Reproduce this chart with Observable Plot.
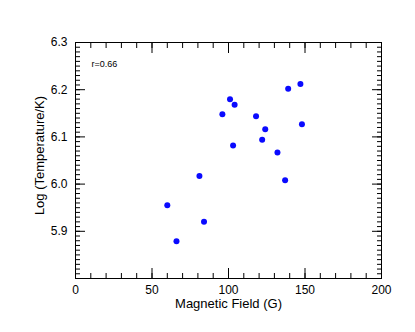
<!DOCTYPE html>
<html>
<head>
<meta charset="utf-8">
<script src="https://cdn.jsdelivr.net/npm/d3@7"></script>
<script src="https://cdn.jsdelivr.net/npm/@observablehq/plot@0.6"></script>
<style>
  html, body { margin: 0; padding: 0; background: #fff; }
  #chart { width: 415px; height: 332px; }
</style>
</head>
<body>
<div id="chart"></div>
<script>
// Data
const field = [101, 104, 96, 118, 124, 122, 103, 81, 60, 84, 66, 147, 139, 148, 132, 137];
const logTemp = [6.180, 6.168, 6.148, 6.144, 6.116, 6.094, 6.082, 6.017, 5.955, 5.920, 5.879, 6.212, 6.202, 6.127, 6.067, 6.008];
const xMajor = [0, 50, 100, 150, 200];
const xMinor = d3.range(0, 201, 10);
const yMajor = [5.9, 6.0, 6.1, 6.2, 6.3];
const yMinor = d3.range(0, 51).map(i => +(5.8 + i * 0.01).toFixed(2));
const annotation = ["r=0.66"];
const xLabel = ["Magnetic Field (G)"];
const yLabel = ["Log (Temperature/K)"];

const points = field.map((f, i) => ({field: f, logTemp: logTemp[i]}));
const font = "'Liberation Sans', Arial, Helvetica, sans-serif";

const chart = Plot.plot({
  width: 415,
  height: 332,
  marginLeft: 75,
  marginRight: 34,
  marginTop: 42,
  marginBottom: 54,
  style: {fontFamily: font, fontSize: "12px", background: "#fff", color: "#000"},
  x: {domain: [0, 200]},
  y: {domain: [5.8, 6.3]},
  marks: [
    Plot.frame({stroke: "#000", strokeWidth: 1}),
    // bottom axis: labels
    Plot.axisX({anchor: "bottom", ticks: xMajor, tickSize: 0, tickPadding: 7, tickFormat: d => String(d), label: null, fontSize: 12}),
    // bottom / top ticks inward
    Plot.axisX({anchor: "bottom", ticks: xMajor, tickSize: -10, tickFormat: () => "", label: null}),
    Plot.axisX({anchor: "bottom", ticks: xMinor, tickSize: -5, tickFormat: () => "", label: null}),
    Plot.axisX({anchor: "top", ticks: xMajor, tickSize: -10, tickFormat: () => "", label: null}),
    Plot.axisX({anchor: "top", ticks: xMinor, tickSize: -5, tickFormat: () => "", label: null}),
    // left axis: labels
    Plot.axisY({anchor: "left", ticks: yMajor, tickSize: 0, tickPadding: 8, tickFormat: d => d.toFixed(1), label: null, fontSize: 12}),
    Plot.axisY({anchor: "left", ticks: yMajor, tickSize: -10, tickFormat: () => "", label: null}),
    Plot.axisY({anchor: "left", ticks: yMinor, tickSize: -5, tickFormat: () => "", label: null}),
    Plot.axisY({anchor: "right", ticks: yMajor, tickSize: -10, tickFormat: () => "", label: null}),
    Plot.axisY({anchor: "right", ticks: yMinor, tickSize: -5, tickFormat: () => "", label: null}),
    // axis titles
    Plot.text(xLabel, {text: d => d, frameAnchor: "bottom", dy: 25, fontSize: 13, textAnchor: "middle", lineAnchor: "middle"}),
    Plot.text(yLabel, {text: d => d, frameAnchor: "left", dx: -36, dy: -5, rotate: -90, fontSize: 13, textAnchor: "middle", lineAnchor: "middle"}),
    // annotation
    Plot.text(annotation, {text: d => d, frameAnchor: "top-left", dx: 16, dy: 22, fontSize: 9, textAnchor: "start", lineAnchor: "middle"}),
    // data
    Plot.dot(points, {x: "field", y: "logTemp", r: 3, fill: "#0a0aff", stroke: "none"})
  ]
});
document.getElementById("chart").appendChild(chart);
</script>
</body>
</html>
